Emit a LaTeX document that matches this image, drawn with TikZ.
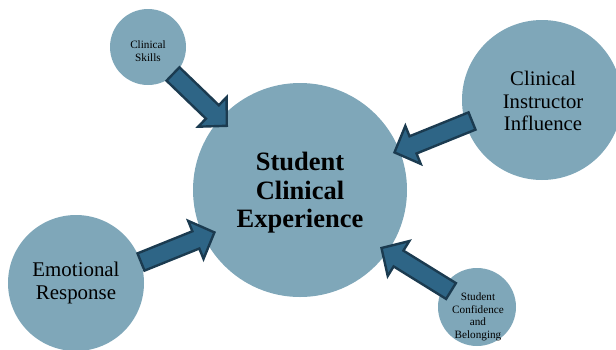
\documentclass[tikz,border=0pt]{standalone}
\usepackage{fontspec}
\setmainfont{Liberation Serif}
\usetikzlibrary{calc}
\definecolor{bubblefill}{HTML}{7FA7B9}
\definecolor{arrowfill}{HTML}{2E6586}
\definecolor{arrowline}{HTML}{1B3B50}
\tikzset{
  bubble/.style={circle, fill=bubblefill, draw=none, inner sep=0pt, minimum size=#1},
  bubbletext/.style={align=center, text=black, inner sep=0pt},
  blockarrow/.style={fill=arrowfill, draw=arrowline, line width=2.4pt, line join=miter}
}
% block arrow from a tail coordinate #1 to a tip coordinate #2
\newcommand\bArrow[2]{%
  \coordinate (#2-base) at ($(#2)!20pt!(#1)$);
  \draw[blockarrow]
    ($(#1)!9.3pt!90:(#2)$) -- ($(#2-base)!9.3pt!-90:(#1)$) -- ($(#2-base)!20.5pt!-90:(#1)$)
    -- (#2) -- ($(#2-base)!20.5pt!90:(#1)$) -- ($(#2-base)!9.3pt!90:(#1)$)
    -- ($(#1)!9.3pt!-90:(#2)$) -- cycle;
}
\begin{document}
\begin{tikzpicture}[x=1pt,y=-1pt]
  \useasboundingbox (0,0) rectangle (616,349);
  \clip (0,0) rectangle (616,349);
  % circles
  \node[bubble=214pt] (exp) at (300,190) {};
  \node[bubble=76pt]  (skills) at (148,47) {};
  \node[bubble=160pt] (instr) at (542,100) {};
  \node[bubble=136pt] (emo) at (76,283) {};
  \node[bubble=78pt]  (conf) at (477,307) {};
  % arrows
  \coordinate (a1t) at (173,74);   \coordinate (a1h) at (226.8,125.8);
  \coordinate (a2t) at (472,121);  \coordinate (a2h) at (394.5,152.4);
  \coordinate (a3t) at (141,262);  \coordinate (a3h) at (214.4,232.4);
  \coordinate (a4t) at (451,291);  \coordinate (a4h) at (381.5,248);
  \bArrow{a1t}{a1h}
  \bArrow{a2t}{a2h}
  \bArrow{a3t}{a3h}
  \bArrow{a4t}{a4h}
  % labels
  \node[bubbletext, font=\fontsize{26.5}{28.5}\selectfont\bfseries] (exptext) at (300,193) {Student\\Clinical\\Experience};
  \node[bubbletext, font=\fontsize{11.2}{13}\selectfont] (skillstext) at (148,51) {Clinical\\Skills};
  \node[bubbletext, font=\fontsize{20.7}{22.5}\selectfont] (instrtext) at (543,101) {Clinical\\Instructor\\Influence};
  \node[bubbletext, font=\fontsize{20.9}{23.5}\selectfont] (emotext) at (76,283) {Emotional\\Response};
  \node[bubbletext, font=\fontsize{11.2}{12.5}\selectfont] (conftext) at (478,317) {Student\\Confidence\\and\\Belonging};
\end{tikzpicture}
\end{document}
